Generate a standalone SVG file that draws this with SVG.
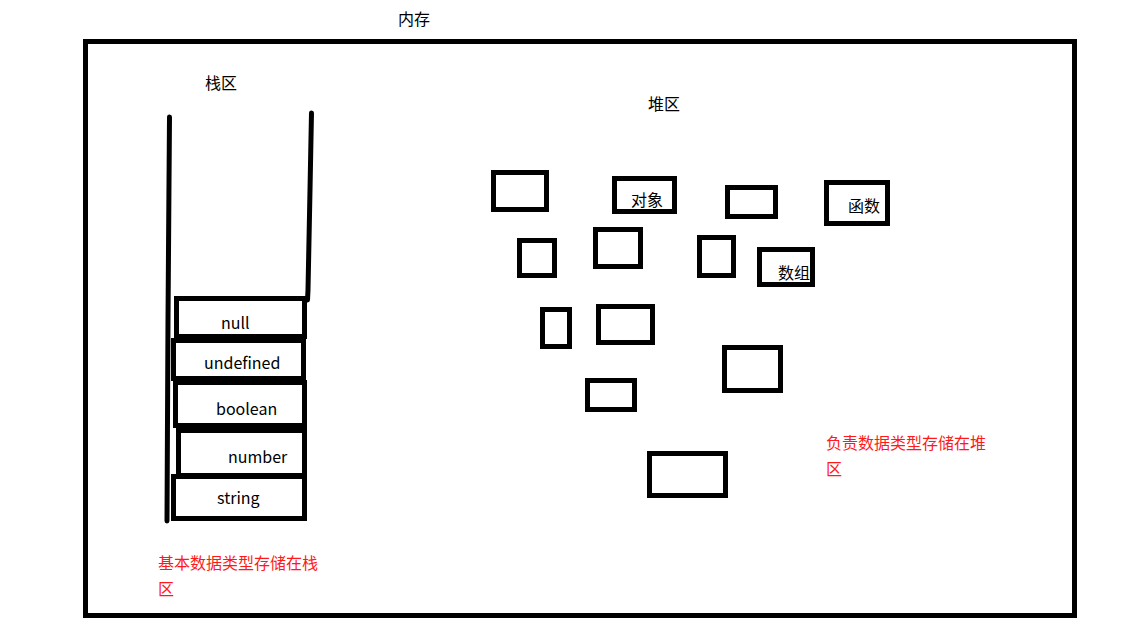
<svg xmlns="http://www.w3.org/2000/svg" width="1147" height="634" viewBox="0 0 1147 634">
<style>
  .box { fill: none; stroke: #000; stroke-width: 5; }
  .line { fill: none; stroke: #000; stroke-width: 5; stroke-linecap: round; stroke-linejoin: round; }
  text { font-family: "Noto Sans CJK SC", "Liberation Sans", sans-serif; font-size: 16px; fill: #000; }
  .red { fill: #ff1a1a; }
</style>
<rect width="1147" height="634" fill="#fff"/>
<g id="memory">
  <rect class="box" x="85.5" y="41.5" width="989" height="574"/>
  <text x="398" y="25">内存</text>
</g>
<g id="stack">
  <text x="205" y="89">栈区</text>
  <polyline class="line" points="169.5,117 169,183 168,320 167,521"/>
  <polyline class="line" points="311.5,113 311,138 310,190 309,240 308,290 307.5,300"/>
</g>
<g id="stack-null">
  <rect class="box" x="176.5" y="298.5" width="128" height="38"/>
  <text x="221" y="329">null</text>
</g>
<g id="stack-undefined">
  <rect class="box" x="173.5" y="340.5" width="130" height="38"/>
  <text x="204" y="369">undefined</text>
</g>
<g id="stack-boolean">
  <rect class="box" x="175.5" y="382.5" width="129" height="43"/>
  <text x="216" y="415">boolean</text>
</g>
<g id="stack-number">
  <rect class="box" x="178.5" y="430.5" width="126" height="45"/>
  <text x="228" y="463">number</text>
</g>
<g id="stack-string">
  <rect class="box" x="173.5" y="476.5" width="131" height="42"/>
  <text x="217" y="504">string</text>
</g>
<g id="stack-note">
  <text class="red" x="158" y="569">基本数据类型存储在栈</text>
  <text class="red" x="158" y="595">区</text>
</g>
<g id="heap">
  <text x="648" y="110">堆区</text>
</g>
<g id="heap-box1"><rect class="box" x="493.5" y="172.5" width="53" height="37"/></g>
<g id="heap-object">
  <rect class="box" x="614.5" y="178.5" width="60" height="33"/>
  <text x="631" y="206">对象</text>
</g>
<g id="heap-box3"><rect class="box" x="727.5" y="187.5" width="48" height="29"/></g>
<g id="heap-function">
  <rect class="box" x="826.5" y="182.5" width="61" height="41"/>
  <text x="848" y="212">函数</text>
</g>
<g id="heap-box5"><rect class="box" x="519.5" y="240.5" width="35" height="35"/></g>
<g id="heap-box6"><rect class="box" x="595.5" y="229.5" width="45" height="37"/></g>
<g id="heap-box7"><rect class="box" x="699.5" y="237.5" width="34" height="38"/></g>
<g id="heap-array">
  <rect class="box" x="759.5" y="249.5" width="53" height="35"/>
  <text x="778" y="279">数组</text>
</g>
<g id="heap-box9"><rect class="box" x="542.5" y="309.5" width="27" height="37"/></g>
<g id="heap-box10"><rect class="box" x="598.5" y="306.5" width="54" height="36"/></g>
<g id="heap-box11"><rect class="box" x="724.5" y="347.5" width="56" height="43"/></g>
<g id="heap-box12"><rect class="box" x="587.5" y="380.5" width="47" height="29"/></g>
<g id="heap-box13"><rect class="box" x="649.5" y="453.5" width="76" height="42"/></g>
<g id="heap-note">
  <text class="red" x="826" y="449">负责数据类型存储在堆</text>
  <text class="red" x="826" y="475">区</text>
</g>
<g id="connectors"></g>
</svg>
